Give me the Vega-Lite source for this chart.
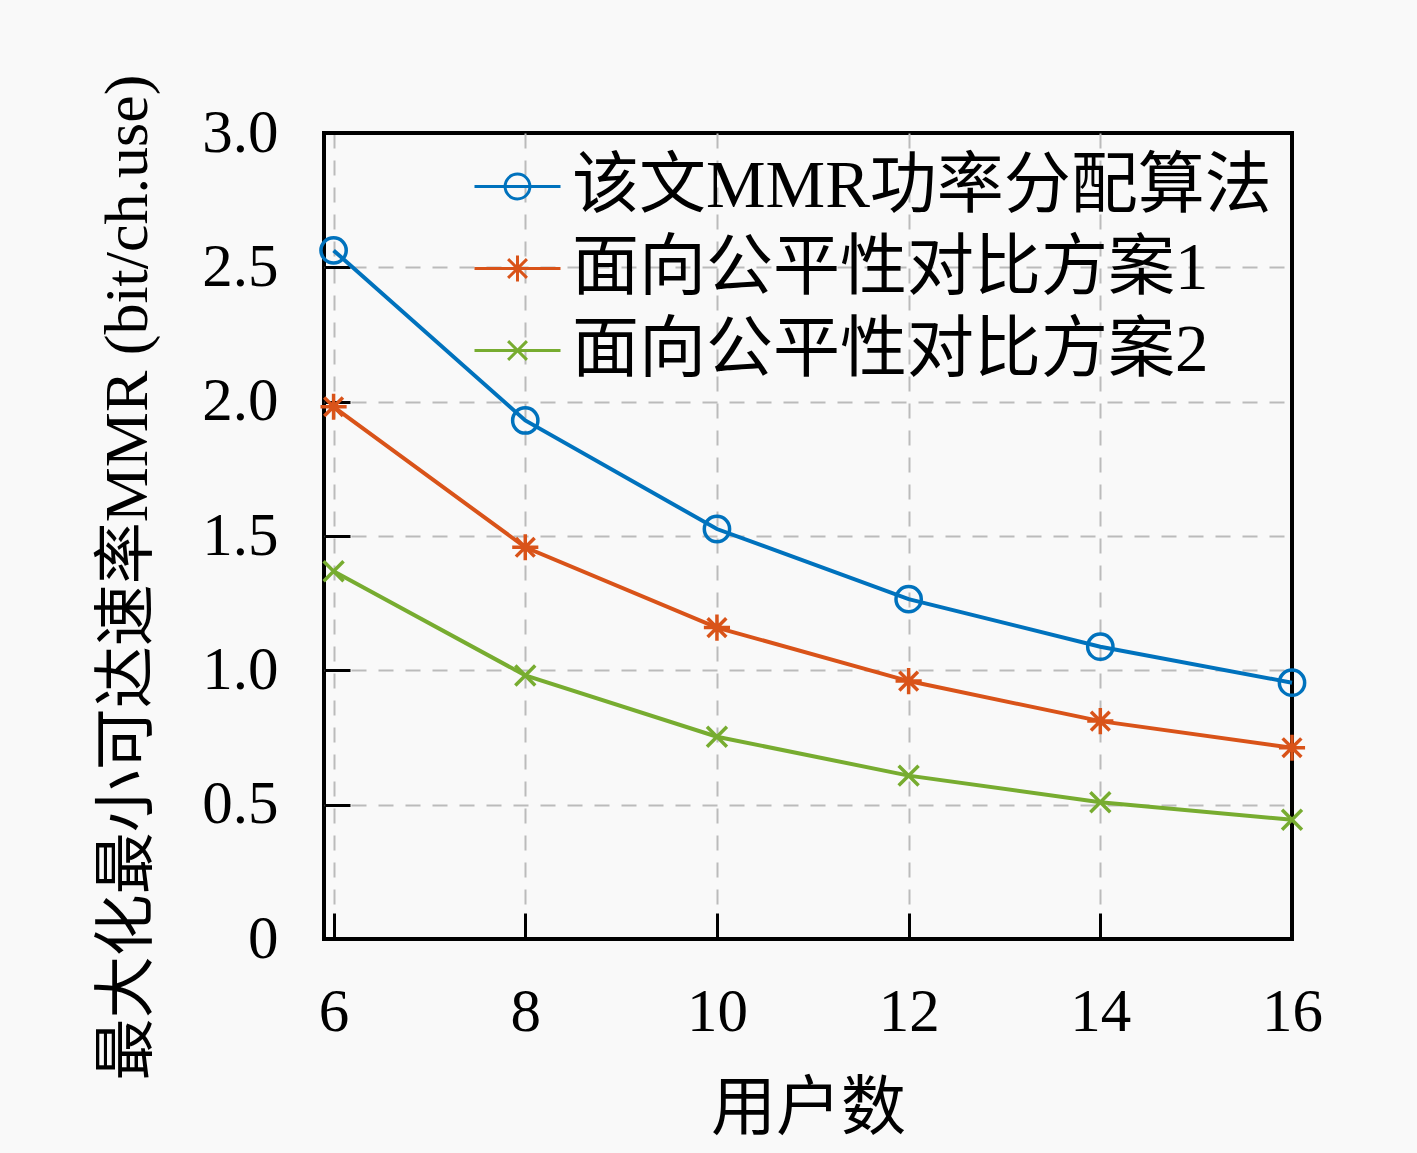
{
  "$schema": "https://vega.github.io/schema/vega-lite/v6.json",
  "width": 968,
  "height": 806,
  "autosize": {"type": "none"},
  "padding": {"left": 324, "top": 133, "right": 125, "bottom": 214},
  "background": "#f9f9f9",
  "config": {
    "view": {"stroke": "#000000", "strokeWidth": 4, "fill": "#f9f9f9"},
    "font": "Liberation Serif, Noto Sans CJK SC",
    "axis": {
      "labelFont": "Liberation Serif, Noto Sans CJK SC",
      "titleFont": "Liberation Serif, Noto Sans CJK SC",
      "labelColor": "#000000",
      "titleColor": "#000000",
      "titleFontWeight": "normal",
      "labelFontSize": 61,
      "titleFontSize": 62,
      "domain": false,
      "tickColor": "#000000",
      "tickWidth": 3,
      "tickSize": -26,
      "grid": true,
      "gridWidth": 2,
      "gridDash": [15, 12],
      "labelFlush": false
    },
    "legend": {
      "labelFont": "Liberation Serif, Noto Sans CJK SC",
      "labelFontSize": 67,
      "labelColor": "#000000",
      "labelLimit": 1000,
      "title": null,
      "orient": "top-right",
      "offset": 20,
      "padding": 0,
      "rowPadding": 14,
      "labelOffset": 21,
      "symbolSize": 1600,
      "symbolStrokeWidth": 3,
      "symbolOpacity": 1,
      "symbolFillColor": "transparent"
    }
  },
  "data": {
    "values": [
      {"用户数": 6, "MMR": 2.563, "方案": "该文MMR功率分配算法"},
      {"用户数": 8, "MMR": 1.930, "方案": "该文MMR功率分配算法"},
      {"用户数": 10, "MMR": 1.526, "方案": "该文MMR功率分配算法"},
      {"用户数": 12, "MMR": 1.265, "方案": "该文MMR功率分配算法"},
      {"用户数": 14, "MMR": 1.088, "方案": "该文MMR功率分配算法"},
      {"用户数": 16, "MMR": 0.954, "方案": "该文MMR功率分配算法"},
      {"用户数": 6, "MMR": 1.981, "方案": "面向公平性对比方案1"},
      {"用户数": 8, "MMR": 1.458, "方案": "面向公平性对比方案1"},
      {"用户数": 10, "MMR": 1.159, "方案": "面向公平性对比方案1"},
      {"用户数": 12, "MMR": 0.960, "方案": "面向公平性对比方案1"},
      {"用户数": 14, "MMR": 0.811, "方案": "面向公平性对比方案1"},
      {"用户数": 16, "MMR": 0.712, "方案": "面向公平性对比方案1"},
      {"用户数": 6, "MMR": 1.369, "方案": "面向公平性对比方案2"},
      {"用户数": 8, "MMR": 0.981, "方案": "面向公平性对比方案2"},
      {"用户数": 10, "MMR": 0.753, "方案": "面向公平性对比方案2"},
      {"用户数": 12, "MMR": 0.608, "方案": "面向公平性对比方案2"},
      {"用户数": 14, "MMR": 0.509, "方案": "面向公平性对比方案2"},
      {"用户数": 16, "MMR": 0.444, "方案": "面向公平性对比方案2"}
    ]
  },
  "encoding": {
    "x": {
      "field": "用户数",
      "type": "quantitative",
      "scale": {"domain": [5.9, 16], "nice": false, "zero": false},
      "axis": {
        "values": [6, 8, 10, 12, 14, 16],
        "labelPadding": 69,
        "title": "用户数",
        "titleFontSize": 65,
        "titlePadding": 35,
        "gridColor": {"condition": {"test": "datum.value === 16", "value": "transparent"}, "value": "#bbbbbb"}
      }
    },
    "y": {
      "field": "MMR",
      "type": "quantitative",
      "scale": {"domain": [0, 3], "nice": false},
      "axis": {
        "values": [0, 0.5, 1, 1.5, 2, 2.5, 3],
        "labelExpr": "datum.value === 0 ? '0' : format(datum.value, '.1f')",
        "labelPadding": 72,
        "title": "最大化最小可达速率MMR (bit/ch.use)",
        "titlePadding": 42,
        "titleY": 444,
        "gridColor": {"condition": {"test": "datum.value === 3 || datum.value === 0", "value": "transparent"}, "value": "#bbbbbb"}
      }
    },
    "color": {
      "field": "方案",
      "type": "nominal",
      "sort": ["该文MMR功率分配算法", "面向公平性对比方案1", "面向公平性对比方案2"],
      "scale": {
        "domain": ["该文MMR功率分配算法", "面向公平性对比方案1", "面向公平性对比方案2"],
        "range": ["#0072BD", "#D95319", "#77AC30"]
      }
    }
  },
  "layer": [
    {
      "mark": {"type": "line", "strokeWidth": 4},
      "encoding": {}
    },
    {
      "transform": [{"filter": {"field": "方案", "equal": "该文MMR功率分配算法"}}],
      "mark": {"type": "point", "shape": "circle", "filled": false, "strokeWidth": 3.5, "size": 640, "opacity": 1},
      "encoding": {}
    },
    {
      "transform": [{"filter": {"field": "方案", "equal": "面向公平性对比方案1"}}],
      "mark": {"type": "point", "shape": "M-1.05,0H1.05M0,-1.05V1.05M-0.75,-0.75L0.75,0.75M-0.75,0.75L0.75,-0.75", "filled": false, "strokeWidth": 3.5, "size": 620, "opacity": 1},
      "encoding": {}
    },
    {
      "transform": [{"filter": {"field": "方案", "equal": "面向公平性对比方案2"}}],
      "mark": {"type": "point", "shape": "M-0.8,-0.8L0.8,0.8M-0.8,0.8L0.8,-0.8", "filled": false, "strokeWidth": 3.5, "size": 620, "opacity": 1},
      "encoding": {}
    },
    {
      "mark": {"type": "point", "filled": false, "strokeWidth": 3, "size": 1600, "opacity": 0},
      "encoding": {
        "shape": {
          "field": "方案",
          "type": "nominal",
          "sort": ["该文MMR功率分配算法", "面向公平性对比方案1", "面向公平性对比方案2"],
          "scale": {
            "domain": ["该文MMR功率分配算法", "面向公平性对比方案1", "面向公平性对比方案2"],
            "range": [
              "M-2.15,0H2.15M0.62,0A0.62,0.62 0 1,1 -0.62,0A0.62,0.62 0 1,1 0.62,0",
              "M-2.15,0H2.15M0,-0.65V0.65M-0.47,-0.47L0.47,0.47M-0.47,0.47L0.47,-0.47",
              "M-2.15,0H2.15M-0.47,-0.47L0.47,0.47M-0.47,0.47L0.47,-0.47"
            ]
          }
        }
      }
    }
  ]
}
